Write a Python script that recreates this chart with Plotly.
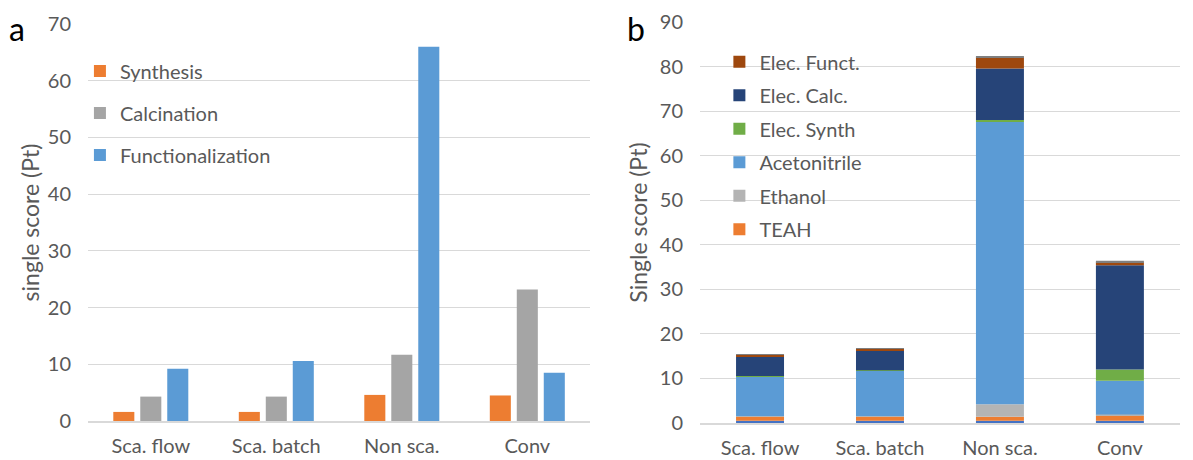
import numpy as np
import plotly.graph_objects as go

# ---- data ----
categories = ["Sca. flow", "Sca. batch", "Non sca.", "Conv"]

# panel a: single score per process step
synthesis = [1.6, 1.6, 4.6, 4.5]
calcination = [4.3, 4.3, 11.7, 23.2]
functionalization = [9.2, 10.6, 66.0, 8.5]

# panel b: contributions, bottom to top
base_elec = [0.5, 0.5, 0.5, 0.5]
teah = [0.9, 0.9, 0.9, 1.1]
ethanol = [0.15, 0.15, 2.8, 0.3]
acetonitrile = [8.95, 10.25, 63.4, 7.6]
elec_synth = [0.05, 0.05, 0.4, 2.5]
elec_calc = [4.3, 4.4, 11.6, 23.4]
elec_funct = [0.4, 0.4, 2.5, 0.7]
other_top = [0.1, 0.1, 0.3, 0.3]

FONT = "Lato, Carlito, 'Liberation Sans', sans-serif"
TICK = "#595959"
GRID = "#D9D9D9"

fig = go.Figure()

# ---- panel a (grouped) ----
for name, vals, col in [
    ("Synthesis", synthesis, "#ED7D31"),
    ("Calcination", calcination, "#A5A5A5"),
    ("Functionalization", functionalization, "#5B9BD5"),
]:
    fig.add_trace(go.Bar(
        x=categories, y=vals, name=name, marker_color=col,
        marker_line_width=0, xaxis="x", yaxis="y",
        legend="legend", legendgroup=name,
    ))

# ---- panel b (stacked via explicit bases) ----
stack = [
    ("Base", base_elec, "#4472C4", False),
    ("TEAH", teah, "#ED7D31", True),
    ("Ethanol", ethanol, "#B4B4B4", True),
    ("Acetonitrile", acetonitrile, "#5B9BD5", True),
    ("Elec. Synth", elec_synth, "#70AD47", True),
    ("Elec. Calc.", elec_calc, "#264478", True),
    ("Elec. Funct.", elec_funct, "#9E480E", True),
    ("Top", other_top, "#7F7F7F", False),
]
cum = np.zeros(len(categories))
for i, (name, vals, col, show) in enumerate(stack):
    v = np.array(vals, dtype=float)
    fig.add_trace(go.Bar(
        x=categories, y=v, base=cum.copy(), name=name, marker_color=col,
        marker_line_width=0, width=0.4, offset=-0.2,
        xaxis="x2", yaxis="y2", legend="legend2", legendgroup=name,
        legendrank=100 - i, showlegend=show,
    ))
    cum += v

axis_common = dict(
    showgrid=False, showline=True, linecolor=GRID, linewidth=1.5,
    ticks="", tickfont=dict(size=20, color=TICK, family=FONT),
    automargin=False, ticklabelstandoff=6,
)
yaxis_common = dict(
    showgrid=True, gridcolor=GRID, gridwidth=1.2, showline=False,
    zeroline=False, ticks="", tickfont=dict(size=20, color=TICK, family=FONT),
    dtick=10, ticklabelstandoff=16, automargin=False,
)

fig.update_layout(
    width=1193, height=460,
    margin=dict(l=0, r=0, t=0, b=0),
    paper_bgcolor="white", plot_bgcolor="white",
    barmode="group", bargap=0.355, bargroupgap=0.22,
    font=dict(family=FONT, color=TICK),
    xaxis=dict(domain=[0.0738, 0.4946], anchor="y", **axis_common),
    yaxis=dict(domain=[0.0848, 0.9478], range=[0, 70], anchor="x",
               title=dict(text="single score (Pt)", font=dict(size=23, color=TICK, family=FONT), standoff=1),
               **yaxis_common),
    xaxis2=dict(domain=[0.5868, 0.989], anchor="y2", **axis_common),
    yaxis2=dict(domain=[0.0804, 0.952], range=[0, 90], anchor="x2",
                title=dict(text="Single score (Pt)", font=dict(size=23, color=TICK, family=FONT), standoff=5),
                **yaxis_common),
    legend=dict(
        x=0.067, y=0.888, xanchor="left", yanchor="top",
        bgcolor="rgba(0,0,0,0)", traceorder="grouped", tracegroupgap=13,
        font=dict(size=20, color=TICK, family=FONT), itemwidth=30,
    ),
    legend2=dict(
        x=0.603, y=0.908, xanchor="left", yanchor="top",
        bgcolor="rgba(0,0,0,0)", traceorder="grouped", tracegroupgap=4.5,
        font=dict(size=20, color=TICK, family=FONT), itemwidth=30,
    ),
    annotations=[
        dict(text="a", x=0.006, y=0.985, xref="paper", yref="paper",
             xanchor="left", yanchor="top", showarrow=False,
             font=dict(size=32, color="black", family=FONT)),
        dict(text="b", x=0.524, y=0.985, xref="paper", yref="paper",
             xanchor="left", yanchor="top", showarrow=False,
             font=dict(size=32, color="black", family=FONT)),
    ],
)

fig.write_html("out.html")
